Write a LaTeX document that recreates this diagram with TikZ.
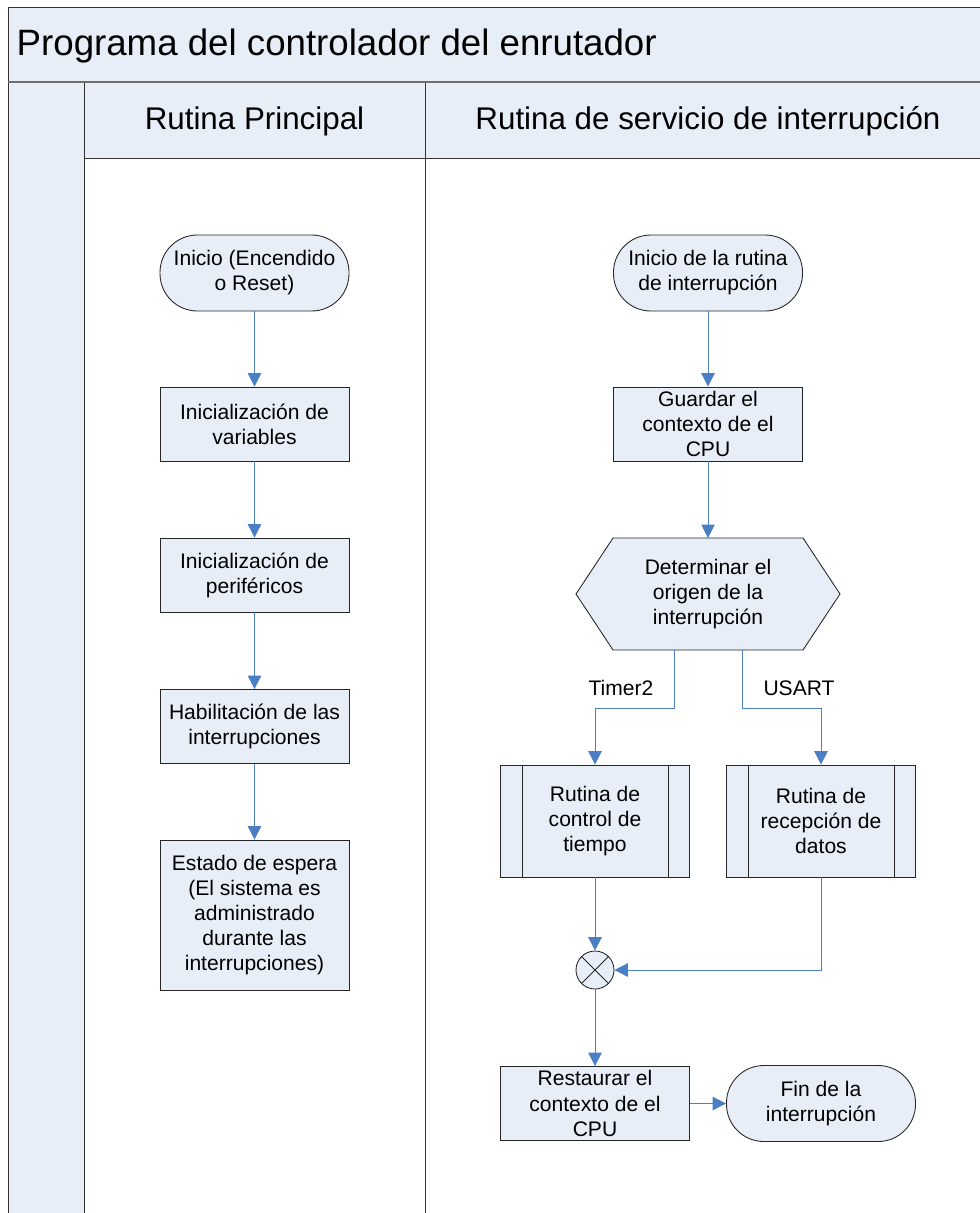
\documentclass[tikz,border=0pt]{standalone}
\usepackage{fontspec}
\setmainfont{Liberation Sans}
\usetikzlibrary{arrows.meta,calc}
\definecolor{lanefill}{RGB}{232,238,247}
\definecolor{flowblue}{RGB}{74,126,197}
\definecolor{frameline}{RGB}{50,50,50}
\definecolor{bandline}{RGB}{110,110,110}

\begin{document}
\begin{tikzpicture}[x=0.75pt,y=-0.75pt,
  every node/.style={font=\fontsize{15.8}{18.8}\selectfont, align=center},
  proc/.style={draw=black!85, line width=0.65pt, fill=lanefill, minimum width=141.75pt, minimum height=55.5pt, inner sep=0pt},
  term/.style={proc, rounded corners=28pt, minimum height=57pt},
  subproc/.style={proc, minimum height=84pt},
  flow/.style={draw=flowblue, line width=0.75pt, -{Triangle[length=10pt,width=10pt]}},
  laneline/.style={draw=frameline, line width=0.75pt},
  edge/.style={draw=black!85, line width=0.65pt},
]
\useasboundingbox (0,0) rectangle (980,1213);

% swimlane frame
\begin{scope}
  \clip (0,0) rectangle (980,1213);
  \fill[lanefill] (8,8) rectangle (995,82);
  \fill[lanefill] (8,82) rectangle (84,1225);
  \fill[lanefill] (84,82) rectangle (995,158);
  \draw[laneline] (8,1225) -- (8,8) -- (995,8);
  \draw[laneline] (84,82) -- (84,1225);
  \draw[laneline] (425,82) -- (425,1225);
  \draw[laneline] (84,158) -- (995,158);
  \draw[bandline, line width=1.6pt] (8,82) -- (995,82);
\end{scope}

\node[anchor=west, font=\fontsize{27.5}{32}\selectfont] (title) at (12,46) {Programa del controlador del enrutador};
\node[font=\fontsize{23.5}{28}\selectfont] (lane1) at (254.5,121) {Rutina Principal};
\node[font=\fontsize{23.5}{28}\selectfont] (lane2) at (708,121) {Rutina de servicio de interrupción};

% main routine
\node[term] (start1) at (254.5,273) {Inicio (Encendido\\o Reset)};
\node[proc] (vars) at (254.5,424) {Inicialización de\\variables};
\node[proc] (perif) at (254.5,575) {Inicialización de\\periféricos};
\node[proc] (enable) at (254.5,726.5) {Habilitación de las\\interrupciones};
\node[proc, minimum height=112.5pt] (wait) at (254.5,915) {Estado de espera\\(El sistema es\\administrado\\durante las\\interrupciones)};

\draw[flow] (start1) -- (vars);
\draw[flow] (vars) -- (perif);
\draw[flow] (perif) -- (enable);
\draw[flow] (enable) -- (wait);

% interrupt service routine
\node[term] (start2) at (708,273) {Inicio de la rutina\\de interrupción};
\node[proc] (save) at (708,424) {Guardar el\\contexto de el\\CPU};
\draw[edge, fill=lanefill]
  (576,594) -- (613,538) -- (803,538) -- (840,594) -- (803,650) -- (613,650) -- cycle;
\node (origin) at (708,594) {Determinar el\\origen de la\\interrupción};
\coordinate (hexbot) at (708,650);
\coordinate (hextop) at (708,538);

\node[subproc] (timer) at (595,821) {Rutina de\\control de\\tiempo};
\node[subproc] (usart) at (821,821) {Rutina de\\recepción de\\datos};
\foreach \n in {timer,usart}{
  \draw[edge] ($(\n.north west)+(22,0)$) -- ($(\n.south west)+(22,0)$);
  \draw[edge] ($(\n.north east)+(-22,0)$) -- ($(\n.south east)+(-22,0)$);
}

\node[circle, edge, fill=lanefill, minimum size=28.5pt, inner sep=0pt] (join) at (595,970) {};
\draw[edge] (join.north west) -- (join.south east) (join.north east) -- (join.south west);

\node[proc] (restore) at (595,1103.5) {Restaurar el\\contexto de el\\CPU};
\node[term] (fin) at (821,1103.5) {Fin de la\\interrupción};

\draw[flow] (start2) -- (save);
\draw[flow] (save) -- (hextop);
\coordinate (bl) at (674,650);
\coordinate (br) at (742,650);
\draw[flow] (bl) -- ++(0,58) -| (timer.north);
\draw[flow] (br) -- ++(0,58) -| (usart.north);
\node (lbl1) at (621,688) {Timer2};
\node (lbl2) at (799,688) {USART};
\draw[flow] (timer.south) -- (join.north);
\draw[flow] (usart.south) |- (join.east);
\draw[flow] (join.south) -- (restore.north);
\draw[flow] (restore.east) -- (fin.west);
\end{tikzpicture}
\end{document}
